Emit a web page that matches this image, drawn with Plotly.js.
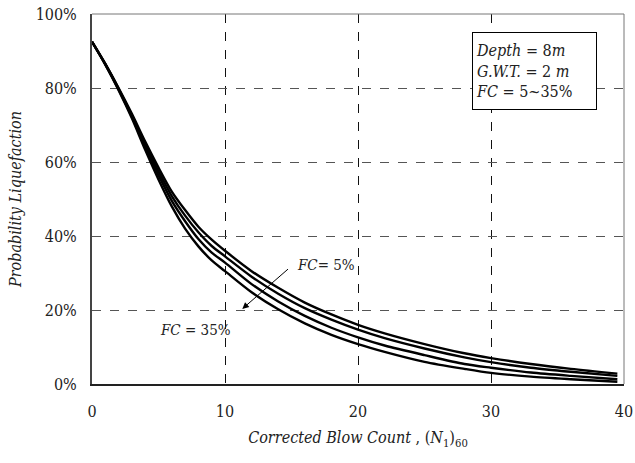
<!DOCTYPE html>
<html>
<head>
<meta charset="utf-8">
<script src="https://cdn.plot.ly/plotly-3.0.1.min.js"></script>
<style>html,body{margin:0;padding:0;background:#fff;}#chart{width:635px;height:463px;}</style>
</head>
<body>
<div id="chart"></div>
<script>
const blowCount = [0,1,2,3,4,5,6,7,8,9,10,12,14,16,18,20,22,25,28,30,33,36,39.5];
const fc5  = [92.5,86.5,80.0,73.0,65.5,58.5,52.0,47.0,42.5,39.0,36.0,30.5,26.0,22.0,18.8,16.0,13.7,10.8,8.3,7.0,5.4,4.1,2.8];
const fc15 = [92.5,86.5,79.8,72.6,64.8,57.5,50.8,45.5,41.0,37.3,34.5,29.0,24.4,20.5,17.4,14.7,12.4,9.6,7.2,5.9,4.4,3.3,2.2];
const fc25 = [92.5,86.4,79.6,72.2,64.0,56.5,49.5,44.0,39.2,35.5,32.8,27.0,22.3,18.4,15.2,12.6,10.4,7.8,5.4,4.4,3.1,2.2,1.3];
const fc35 = [92.5,86.3,79.4,71.8,63.3,55.3,48.0,42.0,37.2,33.4,30.5,24.8,20.2,16.4,13.3,10.8,8.7,6.0,4.1,3.0,2.0,1.3,0.6];
const seriesNames = ['FC = 5%','FC = 15%','FC = 25%','FC = 35%'];
const xTicks = [0,10,20,30,40];
const yTicks = [0,20,40,60,80,100];

const FONT = "'DejaVu Serif Condensed', 'DejaVu Serif', serif";
const traces = [fc5, fc15, fc25, fc35].map((ys, i) => ({
  x: blowCount, y: ys, name: seriesNames[i], type: 'scatter', mode: 'lines',
  line: {color: '#000', width: 2.4, shape: 'spline', smoothing: 0.8},
  showlegend: false, hoverinfo: 'skip'
}));

const layout = {
  width: 635, height: 463,
  margin: {l: 92, r: 11, t: 14, b: 79},
  paper_bgcolor: '#fff', plot_bgcolor: '#fff',
  font: {family: FONT, size: 16, color: '#222'},
  showlegend: false,
  xaxis: {
    range: [0, 40], tickvals: xTicks, ticktext: xTicks.map(String),
    showgrid: true, gridcolor: '#111', griddash: 'dash', gridwidth: 1,
    zeroline: false, showline: true, linecolor: '#222', linewidth: 2,
    ticks: 'outside', ticklen: 12, tickcolor: 'rgba(0,0,0,0)',
    tickfont: {family: FONT, size: 16, color: '#222'},
    title: {text: '<i>Corrected Blow Count</i> , (<i>N</i><sub>1</sub>)<sub>60</sub>', font: {family: FONT, size: 16, color: '#222'}, standoff: 12}
  },
  yaxis: {
    range: [0, 100], tickvals: yTicks, ticktext: yTicks.map(v => v + '%'),
    showgrid: true, gridcolor: '#555', griddash: 'dash', gridwidth: 1,
    zeroline: false, showline: true, linecolor: '#444', linewidth: 2,
    ticks: 'outside', ticklen: 10, tickcolor: 'rgba(0,0,0,0)',
    tickfont: {family: FONT, size: 16, color: '#222'},
    title: {text: '<i>Probability Liquefaction</i>', font: {family: FONT, size: 16, color: '#222'}, standoff: 10}
  },
  shapes: [
    {type: 'line', xref: 'paper', yref: 'paper', x0: 0, x1: 1, y0: 1, y1: 1, line: {color: '#777', width: 1}},
    {type: 'line', xref: 'paper', yref: 'paper', x0: 1, x1: 1, y0: 0, y1: 1, line: {color: '#777', width: 1}}
  ],
  annotations: [
    {xref: 'x', yref: 'y', x: 28.6, y: 95.2, xanchor: 'left', yanchor: 'top', align: 'left', valign: 'middle',
     width: 117, height: 70,
     text: '<i>Depth</i> = 8<i>m</i><br><i>G.W.T.</i> = 2 <i>m</i><br><i>FC</i> = 5~35%',
     showarrow: false, bgcolor: '#fff', bordercolor: '#000', borderwidth: 1, borderpad: 3,
     font: {family: FONT, size: 16, color: '#222'}},
    {xref: 'x', yref: 'y', x: 17.6, y: 32.2, text: '<i>FC</i>= 5%', showarrow: false,
     font: {family: FONT, size: 15, color: '#222'}},
    {xref: 'x', yref: 'y', x: 7.8, y: 14.6, text: '<i>FC</i> = 35%', showarrow: false,
     font: {family: FONT, size: 15, color: '#222'}},
    {xref: 'x', yref: 'y', axref: 'x', ayref: 'y', x: 11.3, y: 20.3, ax: 14.85, ay: 31.4,
     text: '', showarrow: true, arrowhead: 2, arrowsize: 1.3, arrowwidth: 1, arrowcolor: '#000'}
  ]
};

Plotly.newPlot('chart', traces, layout, {staticPlot: true, displayModeBar: false});
</script>
</body>
</html>
